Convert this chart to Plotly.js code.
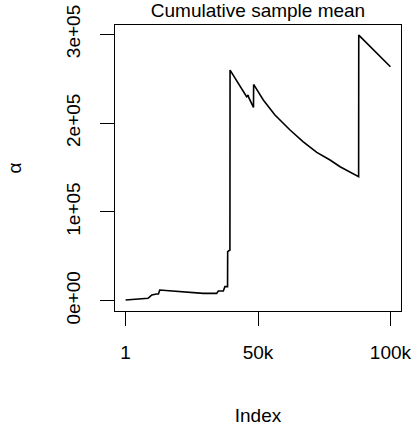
<!DOCTYPE html>
<html>
<head>
<meta charset="utf-8">
<script src="https://cdn.plot.ly/plotly-3.0.1.min.js"></script>
<style>html,body{margin:0;padding:0;background:#fff;}#chart{width:412px;height:428px;}</style>
</head>
<body>
<div id="chart"></div>
<script>
// Index (sample number) at each read point of the cumulative mean curve
const sampleIndex = [1, 5400, 8500, 9200, 9900, 11700, 12400, 12900, 16100, 21200, 29300, 34400, 35000, 36900, 37500, 38500, 38550, 39400, 39450, 45700, 46300, 46400, 48300, 48350, 52000, 56400, 62100, 67100, 72200, 77200, 81000, 88000, 88050, 100000];
// Cumulative sample mean of alpha at those indices
const cumMean = [800, 1600, 2700, 4500, 6400, 7500, 7500, 12000, 11300, 9500, 8300, 8300, 10900, 10900, 15800, 15800, 55200, 57100, 259700, 229700, 231500, 229500, 217700, 243600, 226000, 209100, 192200, 179000, 167100, 158400, 150900, 139600, 299100, 263500];
const xTickVals = [1, 50000, 100000];
const xTickText = ["1", "50k", "100k"];
const yTickVals = [0, 100000, 200000, 300000];
const yTickText = ["0e+00", "1e+05", "2e+05", "3e+05"];

const FONT = "Liberation Sans, Arial, Helvetica, sans-serif";

const trace = {
  x: sampleIndex,
  y: cumMean,
  type: "scatter",
  mode: "lines",
  line: {color: "#000", width: 1.6},
  hoverinfo: "skip"
};

const layout = {
  width: 412,
  height: 428,
  margin: {l: 115, r: 11, t: 25, b: 117, pad: 0},
  paper_bgcolor: "#fff",
  plot_bgcolor: "#fff",
  showlegend: false,
  font: {family: FONT, size: 19, color: "#000"},
  title: {
    text: "Cumulative sample mean",
    font: {family: FONT, size: 19, color: "#000"},
    x: 0.5, xref: "paper", xanchor: "center",
    y: 1 - 10/428, yref: "container", yanchor: "middle"
  },
  xaxis: {
    range: [-3999, 103999],
    tickmode: "array",
    tickvals: xTickVals,
    ticktext: xTickText,
    ticks: "outside",
    ticklen: 14,
    tickwidth: 1,
    tickcolor: "#000",
    ticklabelstandoff: 10,
    showline: true,
    mirror: true,
    linecolor: "#000",
    linewidth: 1,
    showgrid: false,
    zeroline: false,
    tickfont: {family: FONT, size: 19, color: "#000"},
    title: {text: "Index", font: {family: FONT, size: 19, color: "#000"}, standoff: 46}
  },
  yaxis: {
    range: [-11600, 310500],
    tickmode: "array",
    tickvals: yTickVals,
    ticktext: yTickText,
    tickangle: -90,
    ticks: "outside",
    ticklen: 14,
    tickwidth: 1,
    tickcolor: "#000",
    ticklabelstandoff: 12,
    showline: true,
    mirror: true,
    linecolor: "#000",
    linewidth: 1,
    showgrid: false,
    zeroline: false,
    tickfont: {family: FONT, size: 19, color: "#000"},
    title: {text: "α", font: {family: FONT, size: 19, color: "#000"}, standoff: 36}
  }
};

Plotly.newPlot("chart", [trace], layout, {staticPlot: true, displayModeBar: false});
</script>
</body>
</html>
